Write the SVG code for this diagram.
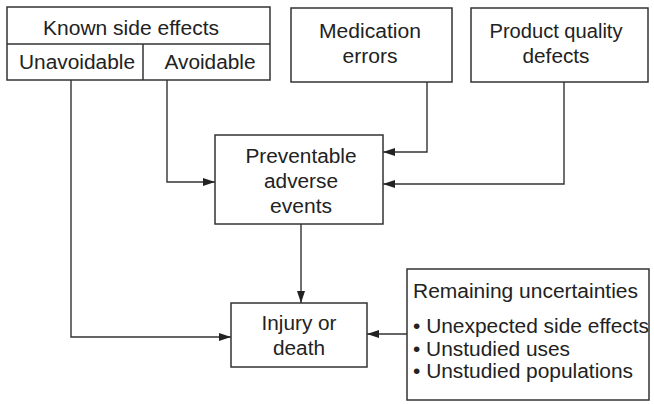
<svg xmlns="http://www.w3.org/2000/svg" width="654" height="404" viewBox="0 0 654 404">
<defs>
<marker id="ah" markerWidth="12" markerHeight="8" refX="12" refY="4" orient="auto" markerUnits="userSpaceOnUse">
<path d="M0,0 L12,4 L0,8 Z" fill="#222"/>
</marker>
</defs>
<style>
rect.box { fill: #fff; stroke: #333; stroke-width: 1.5; }
line.div { stroke: #333; stroke-width: 1.5; }
text { font-family: "Liberation Sans", Arial, sans-serif; font-size: 19.5px; fill: #222; }
text.c { text-anchor: middle; }
.conn path { fill: none; stroke: #333; stroke-width: 1.4; }
</style>
<rect width="654" height="404" fill="#fff"/>
<g class="conn" id="connectors">
<path d="M71,80 V337 H231" marker-end="url(#ah)"/>
<path d="M167,80 V182 H215" marker-end="url(#ah)"/>
<path d="M427,82 V152 H383" marker-end="url(#ah)"/>
<path d="M564,82 V184 H383" marker-end="url(#ah)"/>
<path d="M301,224 V303" marker-end="url(#ah)"/>
<path d="M407,334 H367" marker-end="url(#ah)"/>
</g>
<g id="known">
<rect class="box" x="7" y="7" width="263" height="73"/>
<line class="div" x1="7" y1="44" x2="270" y2="44"/>
<line class="div" x1="143" y1="44" x2="143" y2="80"/>
<text class="c" x="131" y="34.5" textLength="176" lengthAdjust="spacingAndGlyphs">Known side effects</text>
<text class="c" x="77" y="68.5" textLength="116" lengthAdjust="spacingAndGlyphs">Unavoidable</text>
<text class="c" x="210" y="68.5" textLength="91" lengthAdjust="spacingAndGlyphs">Avoidable</text>
</g>
<g id="medication">
<rect class="box" x="291" y="8" width="161" height="74"/>
<text class="c" x="370" y="37.5" textLength="102" lengthAdjust="spacingAndGlyphs">Medication</text>
<text class="c" x="370" y="62.5" textLength="55" lengthAdjust="spacingAndGlyphs">errors</text>
</g>
<g id="product">
<rect class="box" x="471" y="8" width="177" height="74"/>
<text class="c" x="556" y="37.5" textLength="133" lengthAdjust="spacingAndGlyphs">Product quality</text>
<text class="c" x="556" y="62.5" textLength="67" lengthAdjust="spacingAndGlyphs">defects</text>
</g>
<g id="preventable">
<rect class="box" x="215" y="135" width="168" height="89"/>
<text class="c" x="301" y="162.5" textLength="111" lengthAdjust="spacingAndGlyphs">Preventable</text>
<text class="c" x="301" y="187.5" textLength="74" lengthAdjust="spacingAndGlyphs">adverse</text>
<text class="c" x="301" y="212.5" textLength="62" lengthAdjust="spacingAndGlyphs">events</text>
</g>
<g id="injury">
<rect class="box" x="231" y="303" width="136" height="64"/>
<text class="c" x="299" y="330" textLength="75" lengthAdjust="spacingAndGlyphs">Injury or</text>
<text class="c" x="299" y="355" textLength="52" lengthAdjust="spacingAndGlyphs">death</text>
</g>
<g id="uncertainties">
<rect class="box" x="407" y="269" width="242" height="131"/>
<text x="413" y="298" textLength="225" lengthAdjust="spacingAndGlyphs">Remaining uncertainties</text>
<text x="413" y="333" textLength="236" lengthAdjust="spacingAndGlyphs">• Unexpected side effects</text>
<text x="413" y="355.5" textLength="157" lengthAdjust="spacingAndGlyphs">• Unstudied uses</text>
<text x="413" y="378" textLength="220" lengthAdjust="spacingAndGlyphs">• Unstudied populations</text>
</g>
</svg>
